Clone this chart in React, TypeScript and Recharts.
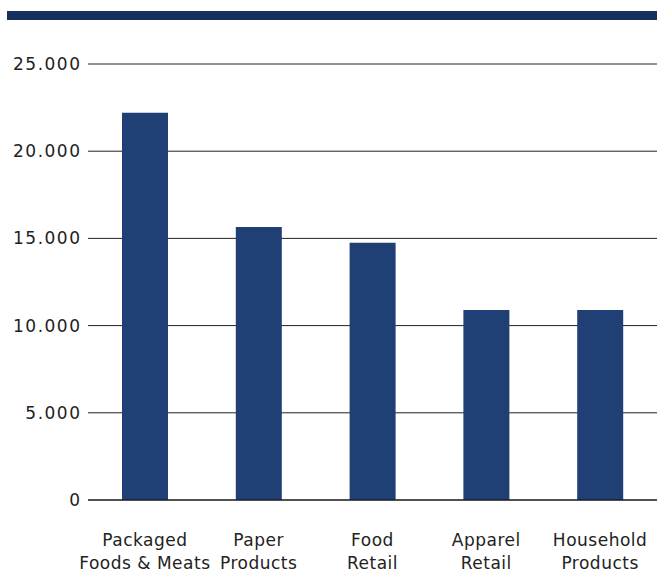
import { BarChart, Bar, XAxis, YAxis, CartesianGrid } from 'recharts'

// ─── Data ─────────────────────────────────────────────────────────────────────

const CATEGORIES = [
  'Packaged\nFoods & Meats',
  'Paper\nProducts',
  'Food\nRetail',
  'Apparel\nRetail',
  'Household\nProducts',
]
const VALUES = [22200, 15650, 14750, 10900, 10900]
const Y_TICKS = [0, 5000, 10000, 15000, 20000, 25000]

const NAVY = '#1f3f75'
const INK = '#222'
const FONT = '"DejaVu Sans", sans-serif'

const data = CATEGORIES.map((name, i) => ({ name, value: VALUES[i] }))

// thousands with a dot, e.g. 25.000
const fmt = (v: number) => v.toLocaleString('de-DE')

// ─── Two-line category tick ───────────────────────────────────────────────────

const CategoryTick = ({ x, y, payload }: { x?: number; y?: number; payload?: { value: string } }) => {
  const lines = (payload?.value ?? '').split('\n')
  return (
    <text x={x} y={y} textAnchor="middle" fill={INK} fontSize={17} letterSpacing={0.5} fontFamily={FONT}>
      {lines.map((l, i) => (
        <tspan key={i} x={x} dy={i === 0 ? 38 : 23}>
          {l}
        </tspan>
      ))}
    </text>
  )
}

export default function App() {
  return (
    <div style={{ position: 'absolute', left: 0, top: 0, width: 657, height: 584, background: '#fff' }}>
      {/* header band */}
      <div style={{ position: 'absolute', left: 7, top: 11, width: 650, height: 9, background: '#15305e' }} />
      <BarChart
        width={657}
        height={584}
        data={data}
        margin={{ top: 64, right: 0, bottom: 0, left: 0 }}
        barCategoryGap={34}
      >
        <CartesianGrid horizontal vertical={false} stroke={INK} strokeOpacity={1} />
        <XAxis
          dataKey="name"
          height={84}
          axisLine={{ stroke: '#111' }}
          tickLine={false}
          interval={0}
          tick={<CategoryTick />}
        />
        <YAxis
          width={88}
          domain={[0, 25000]}
          ticks={Y_TICKS}
          tickFormatter={fmt}
          axisLine={false}
          tickLine={false}
          tickSize={6}
          tick={{ fill: INK, fontSize: 17, fontFamily: FONT, letterSpacing: 1.5, dx: 1.5 }}
        />
        <Bar dataKey="value" fill={NAVY} isAnimationActive={false} />
      </BarChart>
    </div>
  )
}
